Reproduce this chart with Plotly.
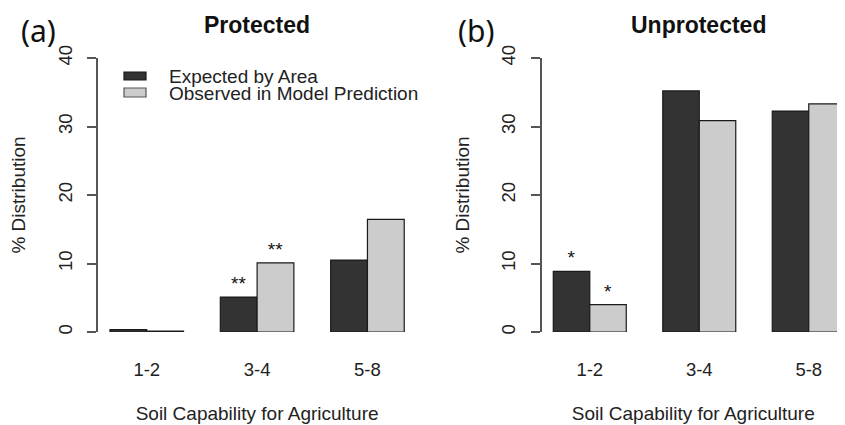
import plotly.graph_objects as go

# ---- data ----
categories = ["1-2", "3-4", "5-8"]
prot_expected = [0.35, 5.1, 10.5]
prot_observed = [0.12, 10.1, 16.45]
unprot_expected = [8.85, 35.2, 32.25]
unprot_observed = [4.0, 30.85, 33.3]
prot_exp_sig = ["", "**", ""]
prot_obs_sig = ["", "**", ""]
unprot_exp_sig = ["*", "", ""]
unprot_obs_sig = ["*", "", ""]
y_ticks = [0, 10, 20, 30, 40]
series_names = ["Expected by Area", "Observed in Model Prediction"]

DARK = "#333333"
LIGHT = "#cccccc"
EDGE = "#1a1a1a"
FONT = "Liberation Sans, Arial, sans-serif"

# The page body has an 8px margin, so the figure is drawn 8px smaller and
# all reference pixel positions are shifted by OFF.
OFF = 8
W, H = 845 - OFF, 425 - OFF

fig = go.Figure()

def add_bars(vals, sig, color, xa, ya):
    fig.add_trace(go.Bar(
        x=categories, y=vals, xaxis=xa, yaxis=ya,
        marker=dict(color=color, line=dict(color=EDGE, width=1.2)),
        text=sig, textposition="outside", cliponaxis=False,
        textfont=dict(size=19, color="#111111", family=FONT),
        showlegend=False, hoverinfo="skip",
    ))

add_bars(prot_expected, prot_exp_sig, DARK, "x", "y")
add_bars(prot_observed, prot_obs_sig, LIGHT, "x", "y")
add_bars(unprot_expected, unprot_exp_sig, DARK, "x2", "y2")
add_bars(unprot_observed, unprot_obs_sig, LIGHT, "x2", "y2")

# pixel layout (reference coordinates)
y_top, y_bot = 58 - OFF, 332 - OFF
lx0, lx1 = 98.2 - OFF, 416.0 - OFF
rx0 = 541.6 - OFF
ydom = [(H - y_bot) / H, (H - y_top) / H]

xcommon = dict(
    type="category", showline=False, ticks="", showgrid=False, zeroline=False,
    tickfont=dict(size=18.5, color="#222222", family=FONT),
    ticklabelstandoff=24, automargin=False,
    title=dict(text="Soil Capability for Agriculture",
               font=dict(size=19, color="#222222", family=FONT), standoff=28),
)
ycommon = dict(
    range=[0, 40], tickvals=y_ticks, showline=True, linecolor="#555555", linewidth=1.5,
    ticks="outside", ticklen=9, tickwidth=1.5, tickcolor="#555555",
    tickangle=-90, showgrid=False, zeroline=False,
    tickfont=dict(size=18.5, color="#222222", family=FONT),
    ticklabelstandoff=8, automargin=False,
    title=dict(text="% Distribution", font=dict(size=19, color="#222222", family=FONT),
               standoff=24),
)

fig.update_layout(
    width=W, height=H, margin=dict(l=0, r=0, t=0, b=0),
    paper_bgcolor="white", plot_bgcolor="white",
    barmode="group", bargap=1/3, bargroupgap=0,
    font=dict(family=FONT, color="#222222"),
    xaxis=dict(domain=[lx0 / W, lx1 / W], range=[-0.44, 2.44], anchor="y", **xcommon),
    yaxis=dict(domain=ydom, anchor="x", **ycommon),
    xaxis2=dict(domain=[rx0 / W, 1.0], range=[-0.44, 2.331], anchor="y2", **xcommon),
    yaxis2=dict(domain=ydom, anchor="x2", **ycommon),
)

# titles and panel labels
def px_ann(text, x, y, size, bold=False, family=FONT):
    fig.add_annotation(
        text=f"<b>{text}</b>" if bold else text,
        x=(x - OFF) / W, y=1 - (y - OFF) / H, xref="paper", yref="paper",
        xanchor="center", yanchor="middle", showarrow=False,
        font=dict(size=size, color="#111111", family=family),
    )

px_ann("Protected", 257, 25, 23, bold=True)
px_ann("Unprotected", 698, 25, 23, bold=True)
px_ann("(a)", 38, 31, 30, family="Noto Sans, Open Sans, sans-serif")
px_ann("(b)", 476, 31, 30, family="Noto Sans, Open Sans, sans-serif")

# manual legend (tight R-style)
legend_rows = [(DARK, EDGE, 72, 80, 77), (LIGHT, "#555555", 88, 97, 93)]
for (fill, edge, t, b, ty), name in zip(legend_rows, series_names):
    fig.add_shape(type="rect", xref="paper", yref="paper",
                  x0=(124 - OFF) / W, x1=(146 - OFF) / W,
                  y0=1 - (b - OFF) / H, y1=1 - (t - OFF) / H,
                  fillcolor=fill, line=dict(color=edge, width=1.2))
    fig.add_annotation(text=name, x=(167 - OFF) / W, y=1 - (ty - OFF) / H,
                       xref="paper", yref="paper",
                       xanchor="left", yanchor="middle", showarrow=False,
                       font=dict(size=19, color="#222222", family=FONT))

fig.write_html("out.html")
